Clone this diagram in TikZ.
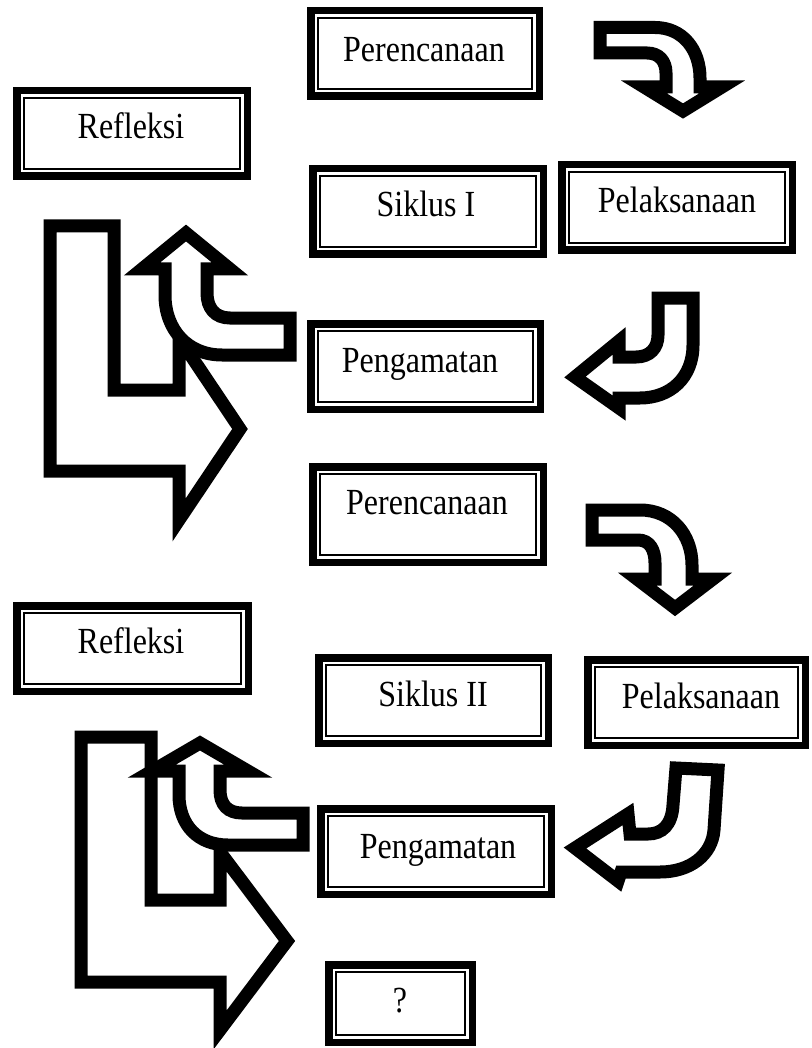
\documentclass[tikz,border=0pt]{standalone}
\usepackage{fontspec}
\setmainfont{Liberation Serif}
\tikzset{
  boxo/.style={draw, line width=7.5pt, inner sep=0pt, fill=white},
  boxi/.style={draw, line width=2pt},
  lbl/.style={font=\fontsize{32}{38}\selectfont, inner sep=0pt, anchor=base},
  blockarrow/.style={draw, fill=white, line width=13pt, line join=miter, miter limit=20},
}
\newcommand\dblbox[5]{%
  \node[boxo, minimum width={(#4-#2-7.5)*1pt}, minimum height={(#5-#3-7.5)*1pt}] (#1) at ({(#2+#4)/2},{(#3+#5)/2}) {};
  \draw[boxi] ({#2+11},{#3+11}) rectangle ({#4-11},{#5-11});
}
\newcommand\stretchtext[1]{\scalebox{1}[1.15]{#1}}
\begin{document}
\begin{tikzpicture}[x=1pt,y=-1pt]
\useasboundingbox (0,0) rectangle (811,1048);

% ---- boxes ----
\dblbox{per1}{307}{7}{543}{100}
\dblbox{ref1}{13}{87}{251}{180}
\dblbox{sik1}{309}{165}{547}{258}
\dblbox{pel1}{558}{161}{796}{254}
\dblbox{pen1}{307}{320}{544}{413}
\dblbox{per2}{309}{463}{547}{566}
\dblbox{ref2}{13}{602}{252}{695}
\dblbox{sik2}{315}{654}{552}{747}
\dblbox{pel2}{584}{656}{809}{749}
\dblbox{pen2}{317}{805}{555}{898}
\dblbox{ques}{325}{961}{476}{1046}

% ---- labels ----
\node[lbl] (per1t) at (424,62) {\stretchtext{Perencanaan}};
\node[lbl] (ref1t) at (131,139) {\stretchtext{Refleksi}};
\node[lbl] (sik1t) at (426,217) {\stretchtext{Siklus I}};
\node[lbl] (pel1t) at (677,213) {\stretchtext{Pelaksanaan}};
\node[lbl] (pen1t) at (420,372) {\stretchtext{Pengamatan}};
\node[lbl] (per2t) at (427,514) {\stretchtext{Perencanaan}};
\node[lbl] (ref2t) at (131,653) {\stretchtext{Refleksi}};
\node[lbl] (sik2t) at (433,706) {\stretchtext{Siklus II}};
\node[lbl] (pel2t) at (701,708) {\stretchtext{Pelaksanaan}};
\node[lbl] (pen2t) at (438,858) {\stretchtext{Pengamatan}};
\node[lbl] (quest) at (400,1012) {\stretchtext{?}};

% ---- cycle I arrows ----
% Perencanaan -> Pelaksanaan
\draw[blockarrow] (600,27.5) -- (655,27.5) .. controls (683,27.5) and (700,50) .. (700,78)
  -- (700,87) -- (722,87) -- (683,111) -- (644,87) -- (666,87) -- (666,73)
  .. controls (666,61) and (659,53) .. (647,53) -- (600,53) -- cycle;
% Pelaksanaan -> Pengamatan
\draw[blockarrow] (658,298) -- (693,298) -- (693,345) .. controls (693,378) and (670,398) .. (640,398)
  -- (619,398) -- (619,408) -- (575,377) -- (619,341) -- (619,357) -- (636,357)
  .. controls (650,357) and (658,348) .. (658,335) -- cycle;
% bent arrow (Refleksi -> next cycle)
\draw[blockarrow] (50,226) -- (114,226) -- (114,390) -- (179,390) -- (179,338) -- (240,429)
  -- (179,520) -- (179,471) -- (50,471) -- cycle;
% Pengamatan -> Refleksi
\draw[blockarrow] (290,318) -- (290,355) -- (222,355) .. controls (188,355) and (165,330) .. (165,295)
  -- (165,269) -- (142,269) -- (186,233) -- (230,269) -- (207,269) -- (207,293)
  .. controls (207,308) and (215,318) .. (230,318) -- cycle;

% ---- cycle II arrows ----
\draw[blockarrow] (592,510) -- (640,510) .. controls (672,510) and (692,535) .. (692,565)
  -- (692,579) -- (713,579) -- (675,608) -- (637,579) -- (655,579) -- (655,563)
  .. controls (655,550) and (650,540) .. (638,540) -- (592,540) -- cycle;
\draw[blockarrow] (676,768) -- (718,770) -- (714,830) .. controls (712,855) and (690,872) .. (660,872)
  -- (621,872) -- (618,881) -- (575,848) -- (628,814) -- (630,834) -- (648,834)
  .. controls (662,834) and (672,825) .. (673,805) -- cycle;
\draw[blockarrow] (81,737) -- (151,737) -- (151,900) -- (220,900) -- (220,852) -- (287,941)
  -- (220,1030) -- (220,982) -- (81,982) -- cycle;
\draw[blockarrow] (303,813) -- (303,845) -- (228,845) .. controls (198,845) and (179,825) .. (179,795)
  -- (179,771) -- (152,771) -- (200,743) -- (248,771) -- (220,771) -- (220,790)
  .. controls (220,805) and (228,813) .. (242,813) -- cycle;
\end{tikzpicture}
\end{document}
